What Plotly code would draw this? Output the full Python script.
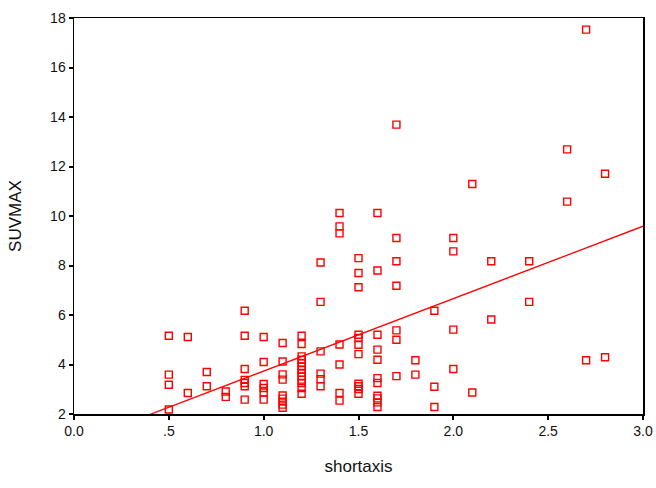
import numpy as np
import plotly.graph_objects as go

# shortaxis values (x) and SUVMAX values (y)
x_vals = [
    0.5, 0.5, 0.5, 0.5,
    0.6, 0.6,
    0.7, 0.7,
    0.8, 0.8,
    0.9, 0.9, 0.9, 0.9, 0.9, 0.9, 0.9,
    1.0, 1.0, 1.0, 1.0, 1.0, 1.0,
    1.1, 1.1, 1.1, 1.1, 1.1, 1.1, 1.1, 1.1, 1.1,
    1.2, 1.2, 1.2, 1.2, 1.2, 1.2, 1.2, 1.2, 1.2, 1.2, 1.2, 1.2, 1.2,
    1.3, 1.3, 1.3, 1.3, 1.3, 1.3,
    1.4, 1.4, 1.4, 1.4, 1.4, 1.4, 1.4,
    1.5, 1.5, 1.5, 1.5, 1.5, 1.5, 1.5, 1.5, 1.5, 1.5, 1.5,
    1.6, 1.6, 1.6, 1.6, 1.6, 1.6, 1.6, 1.6, 1.6, 1.6, 1.6,
    1.7, 1.7, 1.7, 1.7, 1.7, 1.7, 1.7,
    1.8, 1.8,
    1.9, 1.9, 1.9,
    2.0, 2.0, 2.0, 2.0,
    2.1, 2.1,
    2.2, 2.2,
    2.4, 2.4,
    2.6, 2.6,
    2.7, 2.7,
    2.8, 2.8,
]
y_vals = [
    5.16, 3.59, 3.18, 2.18,
    5.11, 2.85,
    3.70, 3.12,
    2.91, 2.69,
    6.17, 5.16, 3.82, 3.38, 3.25, 3.12, 2.58,
    5.11, 4.10, 3.21, 3.05, 2.87, 2.58,
    4.87, 4.12, 3.60, 3.39, 2.75, 2.62, 2.50, 2.38, 2.25,
    5.16, 4.83, 4.33, 4.19, 4.06, 3.92, 3.79, 3.66, 3.52, 3.39, 3.25, 3.05, 2.82,
    8.12, 6.53, 4.53, 3.63, 3.41, 3.12,
    10.12, 9.58, 9.30, 4.81, 4.00, 2.85, 2.54,
    8.30, 7.70, 7.12, 5.20, 5.07, 4.80, 4.42, 3.22, 3.12, 3.01, 2.82,
    10.12, 7.80, 5.20, 4.60, 4.19, 3.45, 3.25, 2.74, 2.63, 2.47, 2.28,
    13.69, 9.11, 8.17, 7.18, 5.38, 5.00, 3.53,
    4.17, 3.59,
    6.17, 3.10, 2.28,
    9.11, 8.57, 5.41, 3.82,
    11.29, 2.87,
    8.17, 5.82,
    8.17, 6.53,
    12.69, 10.58,
    17.53, 4.17,
    11.71, 4.29,
]

x_ticks = [0.0, 0.5, 1.0, 1.5, 2.0, 2.5, 3.0]
x_ticktext = ["0.0", ".5", "1.0", "1.5", "2.0", "2.5", "3.0"]
y_ticks = [2, 4, 6, 8, 10, 12, 14, 16, 18]

# Linear (OLS) fit line from the data
slope, intercept = np.polyfit(np.array(x_vals), np.array(y_vals), 1)
fit_x = np.array([0.0, 3.0])
fit_y = intercept + slope * fit_x

fig = go.Figure()
fig.add_trace(go.Scatter(
    x=x_vals, y=y_vals, mode="markers",
    marker=dict(symbol="square-open", size=7, color="#ff0000",
                line=dict(width=1.4, color="#ff0000")),
    showlegend=False, hoverinfo="skip", cliponaxis=False,
))
fig.add_trace(go.Scatter(
    x=fit_x, y=fit_y, mode="lines",
    line=dict(color="#ff0000", width=1.3),
    showlegend=False, hoverinfo="skip",
))

FONT = "Liberation Sans, Arial, sans-serif"
axis_common = dict(
    showgrid=False, zeroline=False, automargin=False,
    showline=True, linecolor="#000000", linewidth=1.5, mirror=True,
    ticks="outside", ticklen=4, tickwidth=2, tickcolor="#000000",
    tickfont=dict(family=FONT, size=14, color="#111111"),
)

fig.update_layout(
    width=656, height=488,
    margin=dict(l=74, r=13, t=18, b=74),
    paper_bgcolor="#ffffff", plot_bgcolor="#ffffff",
    xaxis=dict(range=[0, 3], tickvals=x_ticks, ticktext=x_ticktext,
               title=dict(text="shortaxis", standoff=22,
                          font=dict(family=FONT, size=17, color="#111111")),
               **axis_common),
    yaxis=dict(range=[2, 18], tickvals=y_ticks,
               title=dict(text="SUVMAX", standoff=24,
                          font=dict(family=FONT, size=17, color="#111111")),
               **axis_common),
)

fig.write_html(
    "out.html",
    config={"displayModeBar": False, "staticPlot": True},
    post_script="document.body.style.margin='0';document.body.style.overflow='hidden';",
)
